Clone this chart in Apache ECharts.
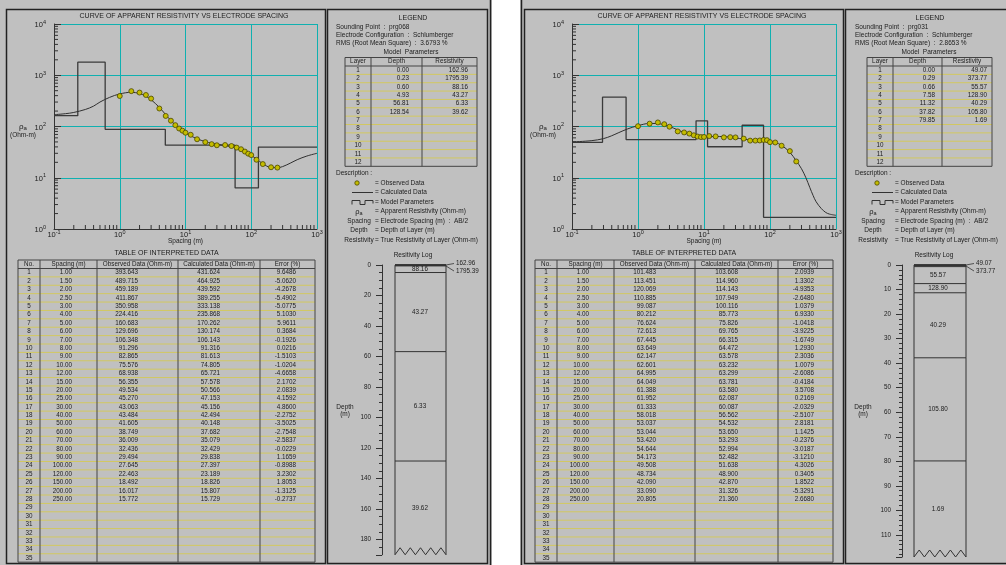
<!DOCTYPE html>
<html><head><meta charset="utf-8">
<script src="https://cdn.jsdelivr.net/npm/echarts@6/dist/echarts.min.js"></script>
<style>html,body{margin:0;padding:0;background:#fff;}#c{width:1006px;height:565px;}</style>
</head><body><div id="c"></div>
<script>
// ---------------- DATA ----------------
const spacing = [1,1.5,2,2.5,3,4,5,6,7,8,9,10,12,15,20,25,30,40,50,60,70,80,90,100,120,150,200,250];

const soundingA = 'prg068';
const rmsA = '3.6793 %';
const obsA = [393.643,489.715,459.189,411.867,350.958,224.416,160.683,129.696,106.348,91.296,82.865,75.576,68.938,56.355,49.534,45.270,43.063,43.484,41.605,38.749,36.009,32.436,29.494,27.645,22.463,18.492,16.017,15.772];
const calA = [431.624,464.925,439.592,389.255,333.138,235.868,170.262,130.174,106.143,91.316,81.613,74.805,65.721,57.578,50.566,47.153,45.156,42.494,40.148,37.682,35.079,32.429,29.838,27.397,23.189,18.826,15.807,15.729];
const errA = [9.6486,-5.0620,-4.2678,-5.4902,-5.0775,5.1030,5.9611,0.3684,-0.1926,0.0216,-1.5103,-1.0204,-4.6658,2.1702,2.0839,4.1592,4.8600,-2.2752,-3.5025,-2.7548,-2.5837,-0.0229,1.1659,-0.8988,3.2302,1.8053,-1.3125,-0.2737];
const curveHeadXA = [0.1,0.15,0.2,0.3,0.4,0.5,0.7];
const curveHeadYA = [170,178,188,215,250,300,370];
const curveTailXA = [300,400,500,700,1000];
const curveTailYA = [16.5,19.5,22.5,26.5,30];
const layerDepthA = [0.00,0.23,0.60,4.93,56.81,128.54];
const layerResA = [162.96,1795.39,88.16,43.27,6.33,39.62];

const soundingB = 'prg031';
const rmsB = '2.8653 %';
const obsB = [101.483,113.451,120.069,110.885,99.087,80.212,76.624,72.613,67.445,63.649,62.147,62.601,64.995,64.049,61.388,61.952,61.333,58.018,53.037,53.044,53.420,54.644,54.173,49.508,48.734,42.090,33.090,20.805];
const calB = [103.608,114.960,114.143,107.949,100.116,85.773,75.826,69.765,66.315,64.472,63.578,63.232,63.299,63.781,63.580,62.087,60.087,56.562,54.532,53.650,53.293,52.994,52.482,51.638,48.900,42.870,31.326,21.360];
const errB = [2.0939,1.3302,-4.9353,-2.6480,1.0379,6.9330,-1.0418,-3.9225,-1.6749,1.2930,2.3036,1.0079,-2.6086,-0.4184,3.5708,0.2169,-2.0329,-2.5107,2.8181,1.1425,-0.2376,-3.0187,-3.1210,4.3026,0.3405,1.8522,-5.3291,2.6680];
const curveHeadXB = [0.1,0.2,0.3,0.4,0.5,0.7];
const curveHeadYB = [50,53,58,66,75,90];
const curveTailXB = [300,350,400,450,500,600,700,800,1000];
const curveTailYB = [15,10,6.5,4.5,3.4,2.5,2.1,1.95,1.85];
const layerDepthB = [0.00,0.29,0.66,7.58,11.32,37.82,79.85];
const layerResB = [49.07,373.77,55.57,128.90,40.29,105.80,1.69];

// axis decorations
const minorMult = [2,3,4,5,6,7,8,9];
const xDecades = [0.1,1,10,100];
const yDecades = [1,10,100,1000];
const tableRows = 35;
const layerRows = 12;
const tableHeaders = ['No.','Spacing (m)','Observed Data (Ohm-m)','Calculated Data (Ohm-m)','Error (%)'];
const layerHeaders = ['Layer','Depth','Resistivity'];
const descLabels = ['','','','ρa','Spacing','Depth','Resistivity'];
const descTexts = ['= Observed Data','= Calculated Data','= Model Parameters','= Apparent Resistivity (Ohm-m)','= Electrode Spacing (m)  :  AB/2','= Depth of Layer (m)','= True Resistivity of Layer (Ohm-m)'];

// ---------------- STYLE / LAYOUT ----------------
const FONT = '"Liberation Sans", Arial, sans-serif';
const TXT = '#1c1c1c';
const BG = '#c0c0c0';
const CYAN = '#10b0b0';
const DARK = '#333333';
const YEL = '#d2c860';
const DOT = '#c4bc00';

const panels = [
  {sounding:soundingA, rms:rmsA, obs:obsA, cal:calA, err:errA, hx:curveHeadXA, hy:curveHeadYA, tx:curveTailXA, ty:curveTailYA,
   depth:layerDepthA, res:layerResA,
   bg:[0,492], outer:[490], box1:[6,325], box2:[327,487],
   plot:{left:54, top:24, width:263, height:205}, titleX:184, yLabX:23,
   tbl:{cols:[18,40,97,178,260,315], right:[72,138,220,296]},
   leg:{title:413, textX:336, tbl:[345,371,422,477], depR:409, resR:468, symX:357, labX:359, eqX:375, mpX:411},
   log:{axisX:382, col0:395, col1:446, max:190, interval:20, minor:4, height:289.75, labX:420, depthLabX:345, titleX:413}
  },
  {sounding:soundingB, rms:rmsB, obs:obsB, cal:calB, err:errB, hx:curveHeadXB, hy:curveHeadYB, tx:curveTailXB, ty:curveTailYB,
   depth:layerDepthB, res:layerResB,
   bg:[520,1006], outer:[521], box1:[524,843], box2:[845,1015],
   plot:{left:572, top:24, width:264, height:205}, titleX:702, yLabX:543,
   tbl:{cols:[535,557,614,695,778,833], right:[589,656,738,814]},
   leg:{title:930, textX:855, tbl:[867,893,942,992], depR:935, resR:987, symX:877, labX:873, eqX:895, mpX:929},
   log:{axisX:902, col0:914, col1:966, max:119, interval:10, minor:5, height:292, labX:938, depthLabX:863, titleX:934}
  }
];

const G = [];
function txt(x, y, s, o) {
  o = o || {};
  const st = {text:s, fontSize:o.size || 6.5, fontFamily:FONT, fill:o.color || TXT,
    align:o.align || 'left', verticalAlign:'middle', textAlign:o.align || 'left', textVerticalAlign:'middle'};
  if (o.rich) st.rich = o.rich;
  G.push({type:'text', x:x, y:y, z:50, silent:true, style:st});
}
function ln(x1, y1, x2, y2, c, w, z) {
  G.push({type:'line', silent:true, z:z || 40, shape:{x1:x1, y1:y1, x2:x2, y2:y2}, style:{stroke:c, lineWidth:w || 1}});
}
function rect(x, y, w, h, fill, stroke, lw, z) {
  G.push({type:'rect', silent:true, z:z == null ? -50 : z, shape:{x:x, y:y, width:w, height:h},
    style:{fill:fill || 'none', stroke:stroke || 'none', lineWidth:lw || 1}});
}
const fmt = (v, d) => v.toFixed(d);

const series = [], grids = [], xAxes = [], yAxes = [];

panels.forEach((p, pi) => {
  // backgrounds & frames
  rect(p.bg[0], 0, p.bg[1] - p.bg[0], 565, BG, null, 1, -100);
  p.outer.forEach(x => ln(x + 0.5, 0, x + 0.5, 565, '#222', 1.5, -40));
  rect(p.box1[0] + 0.5, 9.5, p.box1[1] - p.box1[0], 554, null, '#222', 1.5, 45);
  rect(p.box2[0] + 0.5, 9.5, p.box2[1] - p.box2[0], 554, null, '#222', 1.5, 45);

  // ---------- log-log chart ----------
  const gi = grids.length;
  grids.push({left:p.plot.left, top:p.plot.top, width:p.plot.width, height:p.plot.height, show:false});
  const labRich = {
    b:{fontSize:7.5, fontFamily:FONT, color:TXT, lineHeight:10, verticalAlign:'bottom'},
    s:{fontSize:5.5, fontFamily:FONT, color:TXT, lineHeight:6, verticalAlign:'top'}
  };
  const supFmt = v => '{b|10}{s|' + Math.round(Math.log10(v)) + '}';
  xAxes.push({type:'log', logBase:10, gridIndex:gi, min:0.1, max:1000,
    axisLine:{show:true, onZero:false, lineStyle:{color:DARK, width:1}},
    axisTick:{show:false},
    axisLabel:{formatter:supFmt, rich:labRich, margin:0, showMinLabel:true, showMaxLabel:true},
    splitLine:{show:true, lineStyle:{color:CYAN, width:1}}, minorTick:{show:false}, minorSplitLine:{show:false}});
  yAxes.push({type:'log', logBase:10, gridIndex:gi, min:1, max:10000,
    axisLine:{show:true, onZero:false, lineStyle:{color:DARK, width:1}},
    axisTick:{show:true, inside:true, length:7, lineStyle:{color:DARK}},
    axisLabel:{formatter:supFmt, rich:labRich, margin:8, showMinLabel:true, showMaxLabel:true},
    splitLine:{show:true, lineStyle:{color:CYAN, width:1}}});
  const ai = xAxes.length - 1;
  // minor ticks
  const xm = [], ym = [];
  xDecades.forEach(d => minorMult.forEach(m => xm.push([m * d, 1])));
  yDecades.forEach(d => minorMult.forEach(m => ym.push([0.1, m * d])));
  series.push({type:'custom', xAxisIndex:ai, yAxisIndex:ai, silent:true, clip:false, z:3, data:xm,
    renderItem:(params, api) => { const c = api.coord([api.value(0), api.value(1)]);
      return {type:'line', shape:{x1:c[0], y1:c[1], x2:c[0], y2:c[1] - 4}, style:{stroke:DARK, lineWidth:1}}; }});
  series.push({type:'custom', xAxisIndex:ai, yAxisIndex:ai, silent:true, clip:false, z:3, data:ym,
    renderItem:(params, api) => { const c = api.coord([api.value(0), api.value(1)]);
      return {type:'line', shape:{x1:c[0], y1:c[1], x2:c[0] + 4, y2:c[1]}, style:{stroke:DARK, lineWidth:1}}; }});
  // model step line
  const model = p.depth.map((d, i) => [i === 0 ? 0.1 : d, p.res[i]]);
  model.push([1000, p.res[p.res.length - 1]]);
  series.push({type:'line', xAxisIndex:ai, yAxisIndex:ai, step:'end', data:model, symbol:'none', silent:true, z:4,
    lineStyle:{color:'#3a3a3a', width:1.3}});
  // calculated curve
  const curve = p.hx.map((x, i) => [x, p.hy[i]])
    .concat(spacing.map((s, i) => [s, p.cal[i]]))
    .concat(p.tx.map((x, i) => [x, p.ty[i]]));
  series.push({type:'line', xAxisIndex:ai, yAxisIndex:ai, data:curve, smooth:0.35, symbol:'none', silent:true, z:5,
    lineStyle:{color:'#303030', width:1}});
  // observed data
  series.push({type:'scatter', xAxisIndex:ai, yAxisIndex:ai, data:spacing.map((s, i) => [s, p.obs[i]]),
    symbol:'circle', symbolSize:5, silent:true, z:6,
    itemStyle:{color:DOT, borderColor:'#4a4600', borderWidth:0.8, opacity:1}});

  // chart texts
  const pcx = p.plot.left + p.plot.width / 2;
  txt(p.titleX, 16, 'CURVE OF APPARENT RESISTIVITY VS ELECTRODE SPACING', {size:7, align:'center'});
  txt(p.yLabX, 126, '{r|ρ}{a|a}', {align:'center', rich:{r:{fontSize:8, fontFamily:FONT, color:TXT, lineHeight:10, verticalAlign:'bottom'}, a:{fontSize:6, fontFamily:FONT, color:TXT, lineHeight:6, verticalAlign:'bottom'}}});
  txt(p.yLabX, 135, '(Ohm-m)', {size:6.5, align:'center'});
  txt(pcx, 241, 'Spacing (m)', {size:6.5, align:'center'});

  // ---------- table of interpreted data ----------
  const c = p.tbl.cols, tTop = 260, hBot = 268.5, rh = 8.39;
  const tBot = hBot + tableRows * rh;
  txt((c[0] + c[5]) / 2, 253, 'TABLE OF INTERPRETED DATA', {size:7, align:'center'});
  for (let r = 1; r < tableRows; r++) ln(c[0], hBot + r * rh, c[5], hBot + r * rh, YEL, 1);
  ln(c[0], hBot, c[5], hBot, '#444', 1);
  c.forEach(x => ln(x, tTop, x, tBot, '#444', 1));
  ln(c[0], tTop, c[5], tTop, '#444', 1);
  ln(c[0], tBot, c[5], tBot, '#444', 1);
  tableHeaders.forEach((h, k) => txt((c[k] + c[k + 1]) / 2, (tTop + hBot) / 2, h, {size:6.3, align:'center'}));
  for (let r = 0; r < tableRows; r++) {
    const y = hBot + (r + 0.5) * rh;
    txt((c[0] + c[1]) / 2, y, String(r + 1), {size:6.3, align:'center'});
    if (r < spacing.length) {
      txt(p.tbl.right[0], y, fmt(spacing[r], 2), {size:6.3, align:'right'});
      txt(p.tbl.right[1], y, fmt(p.obs[r], 3), {size:6.3, align:'right'});
      txt(p.tbl.right[2], y, fmt(p.cal[r], 3), {size:6.3, align:'right'});
      txt(p.tbl.right[3], y, fmt(p.err[r], 4), {size:6.3, align:'right'});
    }
  }

  // ---------- legend ----------
  const L = p.leg;
  txt(L.title, 18, 'LEGEND', {size:7, align:'center'});
  txt(L.textX, 27, 'Sounding Point  :  ' + p.sounding, {size:6.5});
  txt(L.textX, 35.5, 'Electrode Configuration  :  Schlumberger', {size:6.5});
  txt(L.textX, 43.5, 'RMS (Root Mean Square)  :  ' + p.rms, {size:6.5});
  txt(L.mpX, 52, 'Model  Parameters', {size:6.5, align:'center'});
  const lc = L.tbl, lTop = 57.5, lhBot = 66, lrh = 8.36, lBot = lhBot + layerRows * lrh;
  for (let r = 1; r < layerRows; r++) ln(lc[0], lhBot + r * lrh, lc[3], lhBot + r * lrh, YEL, 1);
  ln(lc[0], lhBot, lc[3], lhBot, '#444', 1);
  lc.forEach(x => ln(x, lTop, x, lBot, '#444', 1));
  ln(lc[0], lTop, lc[3], lTop, '#444', 1);
  ln(lc[0], lBot, lc[3], lBot, '#444', 1);
  layerHeaders.forEach((h, k) => txt((lc[k] + lc[k + 1]) / 2, (lTop + lhBot) / 2, h, {size:6.3, align:'center'}));
  for (let r = 0; r < layerRows; r++) {
    const y = lhBot + (r + 0.5) * lrh;
    txt((lc[0] + lc[1]) / 2, y, String(r + 1), {size:6.3, align:'center'});
    if (r < p.depth.length) {
      txt(L.depR, y, fmt(p.depth[r], 2), {size:6.3, align:'right'});
      txt(L.resR, y, fmt(p.res[r], 2), {size:6.3, align:'right'});
    }
  }
  txt(L.textX, 173.5, 'Description :', {size:6.5});
  const dy = [183, 192.5, 202, 211.5, 221, 230.5, 240];
  descTexts.forEach((t, k) => {
    txt(L.eqX, dy[k], t, {size:6.5});
    if (k === 3) txt(L.labX, dy[k], '{r|ρ}{a|a}', {align:'center', rich:{r:{fontSize:7.5, fontFamily:FONT, color:TXT, lineHeight:9, verticalAlign:'bottom'}, a:{fontSize:5.5, fontFamily:FONT, color:TXT, lineHeight:5, verticalAlign:'bottom'}}});
    else if (descLabels[k]) txt(L.labX, dy[k], descLabels[k], {size:6.5, align:'center'});
  });
  G.push({type:'circle', silent:true, z:50, shape:{cx:L.symX, cy:dy[0], r:2.2}, style:{fill:DOT, stroke:'#4a4600', lineWidth:0.8}});
  ln(L.symX - 5, dy[1], L.symX + 16, dy[1], '#333', 1, 50);
  G.push({type:'polyline', silent:true, z:50, shape:{points:[[L.symX - 5, dy[2] + 2.5],[L.symX - 5, dy[2] - 1.5],[L.symX + 3, dy[2] - 1.5],[L.symX + 3, dy[2] + 2.5],[L.symX + 8, dy[2] + 2.5],[L.symX + 8, dy[2] - 1.5],[L.symX + 16, dy[2] - 1.5],[L.symX + 16, dy[2] + 1.5]]}, style:{stroke:'#333', lineWidth:1, fill:'none'}});

  // ---------- resistivity log ----------
  const lg = p.log;
  txt(lg.titleX, 255, 'Resitivity Log', {size:6.5, align:'center'});
  txt(lg.depthLabX, 407, 'Depth', {size:6.5, align:'center'});
  txt(lg.depthLabX, 414.5, '(m)', {size:6.5, align:'center'});
  const gj = grids.length;
  grids.push({left:lg.axisX, top:265, width:lg.col1 - lg.axisX, height:lg.height, show:false});
  xAxes.push({type:'value', gridIndex:gj, min:0, max:1, show:false});
  yAxes.push({type:'value', gridIndex:gj, inverse:true, min:0, max:lg.max, interval:lg.interval,
    axisLine:{show:true, lineStyle:{color:DARK, width:1}},
    axisTick:{show:true, length:6, lineStyle:{color:DARK}},
    minorTick:{show:true, splitNumber:lg.minor, length:3, lineStyle:{color:DARK}},
    axisLabel:{fontSize:6.3, fontFamily:FONT, color:TXT, margin:11, showMaxLabel:false,
      formatter:v => (v % lg.interval === 0 && v < lg.max) ? String(v) : ''},
    splitLine:{show:false}});
  const bj = xAxes.length - 1;
  const c0 = (lg.col0 - lg.axisX) / (lg.col1 - lg.axisX);
  const layers = p.depth.map((d, i) => [d, i + 1 < p.depth.length ? p.depth[i + 1] : lg.max, p.res[i]]);
  const nLayers = layers.length;
  series.push({type:'custom', xAxisIndex:bj, yAxisIndex:bj, silent:true, clip:false, z:5, data:layers,
    renderItem:(params, api) => {
      const i = params.dataIndex;
      const top = api.value(0), bot = api.value(1), res = api.value(2);
      const a = api.coord([c0, top]), b = api.coord([1, bot]);
      const x0 = a[0], x1 = b[0], y0 = a[1], y1 = b[1];
      const ch = [];
      ch.push({type:'line', shape:{x1:x0, y1:y0, x2:x1, y2:y0}, style:{stroke:i === 0 ? '#111' : '#333', lineWidth:i === 0 ? 1.6 : 1}});
      ch.push({type:'line', shape:{x1:x0, y1:y0, x2:x0, y2:y1}, style:{stroke:'#333', lineWidth:1}});
      ch.push({type:'line', shape:{x1:x1, y1:y0, x2:x1, y2:y1}, style:{stroke:'#333', lineWidth:1}});
      const label = res.toFixed(2);
      if (y1 - y0 > 5) {
        ch.push({type:'text', style:{x:lg.labX, y:(y0 + y1) / 2, text:label, fontSize:6.3, fontFamily:FONT, fill:TXT, align:'center', verticalAlign:'middle'}});
      } else {
        const t0 = api.coord([1, 0]);
        const ly = t0[1] - 1.5 + i * 7.5;
        ch.push({type:'line', shape:{x1:x1, y1:t0[1] + i, x2:x1 + 8, y2:ly}, style:{stroke:'#333', lineWidth:0.8}});
        ch.push({type:'text', style:{x:x1 + 10, y:ly, text:label, fontSize:6.3, fontFamily:FONT, fill:TXT, align:'left', verticalAlign:'middle'}});
      }
      if (i === nLayers - 1) {
        const pts = [];
        const n = 5, w = (x1 - x0) / n;
        for (let k = 0; k <= n; k++) { pts.push([x0 + k * w, y1]); if (k < n) pts.push([x0 + (k + 0.5) * w, y1 - 7]); }
        ch.push({type:'polyline', shape:{points:pts}, style:{stroke:'#333', lineWidth:1, fill:'none'}});
      }
      return {type:'group', children:ch};
    }});
});

const chart = echarts.init(document.getElementById('c'), null, {renderer:'canvas'});
chart.setOption({
  backgroundColor:'#ffffff',
  animation:false,
  textStyle:{fontFamily:FONT},
  grid:grids, xAxis:xAxes, yAxis:yAxes, series:series,
  graphic:{elements:G}
});
</script></body></html>
